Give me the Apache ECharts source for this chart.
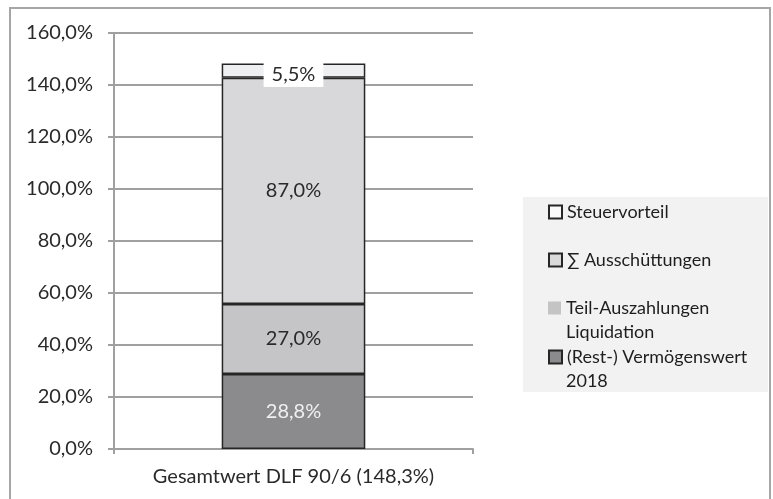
<!DOCTYPE html>
<html><head><meta charset="utf-8">
<script src="https://cdn.jsdelivr.net/npm/echarts@6/dist/echarts.min.js"></script>
<style>html,body{margin:0;padding:0;background:#fff}#c{width:773px;height:499px}</style>
</head><body><div id="c"></div>
<script>
const categories = ['Gesamtwert DLF 90/6 (148,3%)'];
const seriesNames = ['(Rest-) Vermögenswert 2018', 'Teil-Auszahlungen Liquidation', '∑ Ausschüttungen', 'Steuervorteil'];
const restwert = [28.8];
const teilAuszahlungen = [27.0];
const ausschuettungen = [87.0];
const steuervorteil = [5.5];
const yTicks = [0, 20, 40, 60, 80, 100, 120, 140, 160];

const FONT = 'Lato';
const fmt = v => v.toFixed(1).replace('.', ',') + '%';
const colors = ['#8b8b8d', '#c5c5c7', '#d8d8da', '#eeeff1'];
const values = [restwert, teilAuszahlungen, ausschuettungen, steuervorteil];
const labelColors = ['#f0f0f0', '#2a2a2a', '#2a2a2a', '#2a2a2a'];

const series = seriesNames.map((n, i) => ({
  name: n, type: 'bar', stack: 'total', barWidth: '40%',
  data: values[i],
  itemStyle: { color: colors[i], borderColor: '#262626', borderWidth: 1.5 },
  label: Object.assign({
    show: true, position: 'inside', fontFamily: FONT, fontSize: 20,
    color: labelColors[i], formatter: p => fmt(p.value)
  }, i === 3 ? { backgroundColor: '#fff', padding: [3, 8, 2, 8], offset: [0, 4] } : {})
}));

// legend lines: first line in legend, second line (if any) as text below
const legendOrder = [3, 2, 1, 0];
const legendCenters = [212, 260, 308, 357];
const splitName = n => {
  if (n === '(Rest-) Vermögenswert 2018') return ['(Rest-) Vermögenswert', '2018'];
  if (n === 'Teil-Auszahlungen Liquidation') return ['Teil-Auszahlungen', 'Liquidation'];
  return [n];
};
const iconStyles = {
  3: { color: '#fafafa', borderWidth: 2 },
  2: { color: '#d9d9d9', borderWidth: 2 },
  1: { color: '#c4c4c4', borderWidth: 0 },
  0: { borderWidth: 2 }
};
const legends = legendOrder.map((si, k) => ({
  left: 548, top: legendCenters[k] - 12, padding: 0,
  orient: 'vertical', icon: 'rect', itemWidth: 13, itemHeight: 13, itemGap: 0,
  selectedMode: false,
  data: [{ name: seriesNames[si], itemStyle: iconStyles[si] }],
  formatter: nm => splitName(nm)[0],
  textStyle: { fontFamily: FONT, fontSize: 18, color: '#1e1e1e', lineHeight: 24 }
}));
const secondLines = legendOrder.map((si, k) => ({ si, k })).filter(o => splitName(seriesNames[o.si]).length > 1)
  .map(o => ({
    type: 'text', left: 566, top: legendCenters[o.k] + 24 - 12,
    style: { text: splitName(seriesNames[o.si])[1], font: '18px ' + FONT, fill: '#1e1e1e', lineHeight: 24, verticalAlign: 'top' }
  }));

const chart = echarts.init(document.getElementById('c'));
chart.setOption({
  animation: false,
  backgroundColor: '#fff',
  graphic: [
    { type: 'rect', shape: { x: 10, y: 8, width: 760, height: 520 }, style: { fill: 'none', stroke: '#a6a6a6', lineWidth: 2 }, z: -1 },
    { type: 'rect', shape: { x: 523, y: 197, width: 245, height: 195 }, style: { fill: '#f2f2f2' }, z: -1 }
  ].concat(secondLines),
  grid: { left: 114, right: 300, top: 33, bottom: 50, containLabel: false },
  legend: legends,
  xAxis: {
    type: 'category', data: categories,
    axisLine: { lineStyle: { color: '#a0a0a0', width: 2 } },
    axisTick: { show: true, length: 5, lineStyle: { color: '#a0a0a0', width: 2 } },
    axisLabel: { fontFamily: FONT, fontSize: 20, color: '#2a2a2a', margin: 18 }
  },
  yAxis: {
    type: 'value', min: 0, max: 160, interval: 20,
    axisLine: { show: true, lineStyle: { color: '#a0a0a0', width: 2 } },
    axisTick: { show: true, length: 6, lineStyle: { color: '#a0a0a0', width: 2 } },
    splitLine: { lineStyle: { color: '#a0a0a0', width: 2 } },
    axisLabel: { fontFamily: FONT, fontSize: 20, color: '#2a2a2a', margin: 21, formatter: v => yTicks.includes(v) ? fmt(v) : '' }
  },
  series: series
});
</script></body></html>
